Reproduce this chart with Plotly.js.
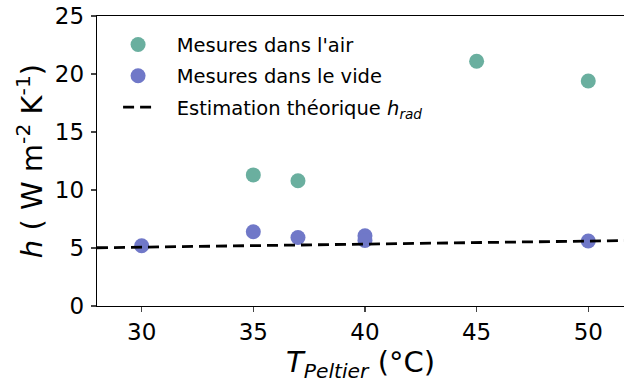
<!DOCTYPE html>
<html>
<head>
<meta charset="utf-8">
<script src="https://cdn.plot.ly/plotly-3.0.1.min.js"></script>
<style>html,body{margin:0;padding:0;background:#fff;}#chart{width:624px;height:385px;}</style>
</head>
<body>
<div id="chart"></div>
<script>
const airT = [35, 37, 45, 50];
const airH = [11.3, 10.8, 21.1, 19.4];
const videT = [30, 35, 37, 40, 40, 50];
const videH = [5.2, 6.4, 5.9, 6.05, 5.65, 5.6];
const radT = [28, 30, 35, 40, 45, 50, 52];
const radH = [5.02, 5.07, 5.19, 5.32, 5.45, 5.59, 5.65];
const xTicks = [30, 35, 40, 45, 50];
const yTicks = [0, 5, 10, 15, 20, 25];

const font = 'DejaVu Sans, sans-serif';
const pad = '\u00a0\u00a0\u00a0';
const traces = [
  {x: airT, y: airH, mode: 'markers', type: 'scatter', name: pad + "Mesures dans l'air", legendgroup: 'a',
   marker: {color: '#6aaf9f', size: 15}, cliponaxis: false},
  {x: videT, y: videH, mode: 'markers', type: 'scatter', name: pad + 'Mesures dans le vide', legendgroup: 'b',
   marker: {color: '#7078c8', size: 15}, cliponaxis: false},
  {x: radT, y: radH, mode: 'lines', type: 'scatter', name: pad + 'Estimation théorique <i>h<sub>rad</sub></i>', legendgroup: 'c',
   line: {color: '#000', width: 2.8, dash: '11px,6px'}}
];
const layout = {
  width: 624, height: 385,
  margin: {l: 97, r: 0, t: 16, b: 79},
  paper_bgcolor: '#fff', plot_bgcolor: '#fff',
  font: {family: font, size: 20, color: '#000'},
  showlegend: true,
  legend: {x: 0.04, y: 0.968, xanchor: 'left', yanchor: 'top', bgcolor: 'rgba(0,0,0,0)',
           font: {family: font, size: 19.5}, tracegroupgap: 3},
  xaxis: {range: [28, 51.6], tickvals: xTicks, ticks: 'outside', ticklen: 5, tickwidth: 1.2,
          showline: true, linecolor: '#000', linewidth: 1.3, mirror: true, showgrid: false, zeroline: false,
          tickfont: {size: 23, family: font},
          title: {text: '<i>T<sub>Peltier</sub></i> (°C)', font: {size: 29, family: font}, standoff: 5}},
  yaxis: {range: [0, 25], tickvals: yTicks, ticks: 'outside', ticklen: 5, tickwidth: 1.2, ticklabelstandoff: 2,
          showline: true, linecolor: '#000', linewidth: 1.3, showgrid: false, zeroline: false,
          tickfont: {size: 23, family: font},
          title: {text: '<i>h</i> ( W m<sup>-2</sup> K<sup>-1</sup>)', font: {size: 29, family: font}, standoff: 3}}
};
Plotly.newPlot('chart', traces, layout, {displayModeBar: false, staticPlot: true});
</script>
</body>
</html>
